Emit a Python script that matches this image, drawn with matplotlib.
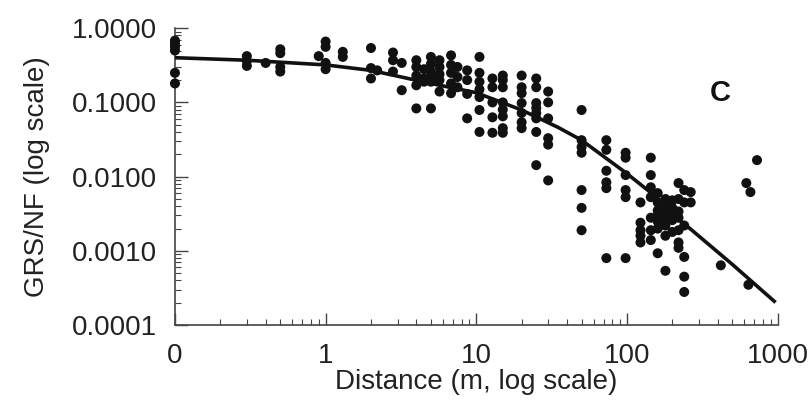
import matplotlib
matplotlib.use("Agg")
import matplotlib.pyplot as plt
from matplotlib.ticker import FixedLocator, NullFormatter

plt.rcParams["font.family"] = ["Liberation Sans", "DejaVu Sans"]

# distance (m) and GRS/NF ratio, one line per column of points
distance = (
    [0.1] * 6
    + [0.3] * 3 + [0.4] + [0.5] * 4 + [0.9] + [1.0] * 4 + [1.3] * 2
    + [2.0] * 3 + [2.2] + [2.8] * 3 + [3.2] * 2
    + [4.0] * 5 + [4.5] * 3 + [5.0] * 6 + [5.7] * 5 + [6.8] * 5 + [7.5] * 3 + [8.7] * 4
    + [10.5] * 7 + [12.8] * 5 + [15] * 8 + [20] * 7 + [25] * 8 + [30] * 6
    + [50] * 7 + [73] * 6 + [98] * 6 + [123] * 5 + [144] * 7
    + [160] * 7 + [180] * 7 + [200] * 5 + [220] * 7 + [240] * 6 + [265] * 2
    + [420, 620, 660, 640, 730]
)
ratio = (
    [0.68, 0.62, 0.56, 0.50, 0.25, 0.18]
    + [0.42, 0.36, 0.31] + [0.34] + [0.52, 0.46, 0.30, 0.26] + [0.42]
    + [0.66, 0.56, 0.34, 0.28] + [0.48, 0.41]
    + [0.54, 0.29, 0.21] + [0.27] + [0.47, 0.37, 0.26] + [0.34, 0.146]
    + [0.37, 0.30, 0.23, 0.17, 0.083] + [0.28, 0.21, 0.19]
    + [0.41, 0.33, 0.26, 0.22, 0.19, 0.083] + [0.37, 0.30, 0.24, 0.20, 0.14]
    + [0.43, 0.32, 0.25, 0.18, 0.133] + [0.30, 0.22, 0.16] + [0.27, 0.20, 0.13, 0.061]
    + [0.41, 0.25, 0.19, 0.15, 0.118, 0.079, 0.040] + [0.21, 0.16, 0.10, 0.063, 0.039]
    + [0.23, 0.20, 0.16, 0.10, 0.08, 0.065, 0.045, 0.039]
    + [0.23, 0.16, 0.133, 0.098, 0.072, 0.054, 0.045]
    + [0.21, 0.16, 0.098, 0.084, 0.072, 0.061, 0.040, 0.0143]
    + [0.14, 0.10, 0.061, 0.033, 0.027, 0.0089]
    + [0.079, 0.031, 0.025, 0.021, 0.0066, 0.0038, 0.0019]
    + [0.031, 0.023, 0.012, 0.0084, 0.0070, 0.0008]
    + [0.021, 0.018, 0.0105, 0.0066, 0.0053, 0.0008]
    + [0.0045, 0.0024, 0.0019, 0.0016, 0.0013]
    + [0.018, 0.0105, 0.0072, 0.0053, 0.0028, 0.0019, 0.0014]
    + [0.0060, 0.0045, 0.0035, 0.0030, 0.0025, 0.0020, 0.00093]
    + [0.0050, 0.0040, 0.0033, 0.0028, 0.0022, 0.0016, 0.00054]
    + [0.0048, 0.0038, 0.0031, 0.0026, 0.0018]
    + [0.0082, 0.0050, 0.0034, 0.0028, 0.0019, 0.0013, 0.0011]
    + [0.0066, 0.0045, 0.0022, 0.00083, 0.00045, 0.00028]
    + [0.0062, 0.0045]
    + [0.00064, 0.0082, 0.0062, 0.00035, 0.0167]
)

# fitted curve
fit_x = [0.1, 0.3, 1, 2, 5, 10, 20, 35, 50, 100, 150, 200, 270, 500, 950]
fit_y = [0.40, 0.37, 0.32, 0.27, 0.18, 0.135, 0.079, 0.046, 0.031, 0.011, 0.0057, 0.0031, 0.0019, 0.00066, 0.00021]

x_ticks = [0.1, 1, 10, 100, 1000]
x_labels = ["0", "1", "10", "100", "1000"]
y_ticks = [0.0001, 0.001, 0.01, 0.1, 1.0]
y_labels = ["0.0001", "0.0010", "0.0100", "0.1000", "1.0000"]

fig = plt.figure(figsize=(8.1, 4.08), dpi=100)
ax = fig.add_axes([0.216, 0.203, 0.744, 0.728])

ax.scatter(distance, ratio, s=52, color="#111111", edgecolors="none", zorder=3, clip_on=False)
ax.plot(fit_x, fit_y, color="#111111", lw=2.6, zorder=4)

ax.set_xscale("log")
ax.set_yscale("log")
ax.set_xlim(0.1, 1000)
ax.set_ylim(0.0001, 1.0)

ax.xaxis.set_major_locator(FixedLocator(x_ticks))
ax.set_xticklabels(x_labels)
ax.yaxis.set_major_locator(FixedLocator(y_ticks))
ax.set_yticklabels(y_labels)
minor = [m * 10.0 ** e for e in range(-5, 3) for m in range(2, 10)]
ax.xaxis.set_minor_locator(FixedLocator([v for v in minor if 0.1 < v < 1000]))
ax.yaxis.set_minor_locator(FixedLocator([v for v in minor if 0.0001 < v < 1]))
ax.xaxis.set_minor_formatter(NullFormatter())
ax.yaxis.set_minor_formatter(NullFormatter())

ax.tick_params(which="both", direction="in", color="#444444", labelsize=20, labelcolor="#222222")
ax.tick_params(which="major", length=9, width=1.0, pad=13)
ax.tick_params(which="minor", length=4, width=0.8)

for side in ["top", "right"]:
    ax.spines[side].set_visible(False)
for side in ["left", "bottom"]:
    ax.spines[side].set_color("#444444")
    ax.spines[side].set_linewidth(1.2)

ax.set_xlabel("Distance (m, log scale)", fontsize=20, color="#222222", labelpad=0)
ax.set_ylabel("GRS/NF (log scale)", fontsize=20, color="#222222", labelpad=16)
ax.text(0.905, 0.78, "C", transform=ax.transAxes, fontsize=21, fontweight="bold",
        ha="center", va="center", color="#111111")

fig.savefig("out.png", dpi=100)
